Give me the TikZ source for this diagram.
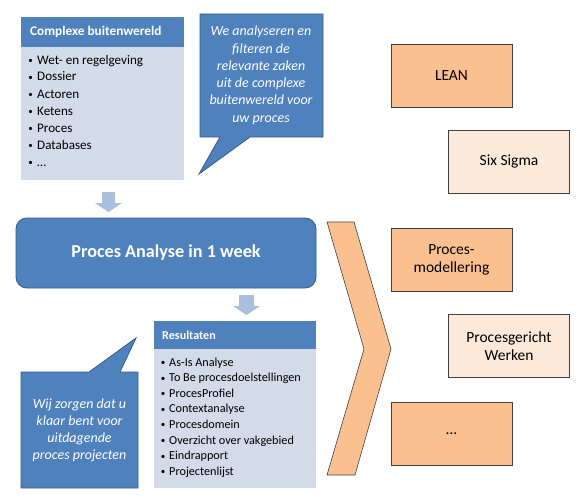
\documentclass[tikz,border=0pt]{standalone}
\usepackage{fontspec}
\setmainfont{Carlito}
\definecolor{blu}{HTML}{4F81BD}
\definecolor{bluedge}{HTML}{385D8A}
\definecolor{lightblu}{HTML}{D3DBE9}
\definecolor{arrblu}{HTML}{AABFDC}
\definecolor{orng}{HTML}{FAC090}
\definecolor{peach}{HTML}{FDE9D9}
\definecolor{boxedge}{HTML}{404040}
\tikzset{
  listtxt/.style={anchor=base west,inner sep=0pt,font=\fontsize{13.1}{15}\selectfont},
  restxt/.style={anchor=base west,inner sep=0pt,font=\fontsize{12.2}{14}\selectfont},
  bul/.style={anchor=base,inner sep=0pt,font=\fontsize{9}{10}\selectfont},
  calltxt/.style={anchor=base,inner sep=0pt,text=white,font=\fontsize{14}{16}\selectfont\itshape},
  hdrtxt/.style={anchor=base west,inner sep=0pt,text=white,font=\fontsize{13.3}{15}\selectfont\bfseries},
  methodbox/.style={draw=boxedge,line width=0.6pt,minimum width=121pt,minimum height=63pt,align=center,inner sep=2pt,font=\fontsize{15.5}{18.5}\selectfont},
  darkbox/.style={methodbox,fill=orng},
  lightbox/.style={methodbox,fill=peach},
  downarrow/.style={fill=arrblu,draw=none},
}
\begin{document}
\begin{tikzpicture}[x=1pt,y=-1pt]
\useasboundingbox (0,0) rectangle (586,503);
\fill[white] (0,0) rectangle (586,503);

% Complexe buitenwereld box
\fill[lightblu] (21,17) rectangle (184,180);
\fill[blu] (21,17) rectangle (184,47);
\node[hdrtxt] (cbh) at (30,36) {Complexe buitenwereld};
\foreach \t [count=\i] in {Wet- en regelgeving,Dossier,Actoren,Ketens,Proces,Databases,\dots}{
  \node[bul] (cbb\i) at (30.5,{63.5+17*(\i-1)}) {•};
  \node[listtxt] (cbl\i) at (37,{64+17*(\i-1)}) {\t};
}

% Callout 1
\draw[fill=blu,draw=bluedge,line width=0.8pt]
  (200,14) -- (323,14) -- (323,137) -- (250,137) -- (199,174) -- (220,137) -- (200,137) -- cycle;
\foreach \t [count=\i] in {We analyseren en,filteren de,relevante zaken,uit de complexe,buitenwereld voor,uw proces}{
  \node[calltxt] (c1l\i) at (261,{36+17.2*(\i-1)}) {\t};
}

% arrow 1
\fill[downarrow] (102,192) -- (115,192) -- (115,203) -- (122,203) -- (108.5,212) -- (95,203) -- (102,203) -- cycle;

% Main box
\node[draw=bluedge,fill=blu,line width=0.9pt,rounded corners=11pt,minimum width=300pt,minimum height=70pt,
  text=white,font=\fontsize{18.2}{20}\selectfont\bfseries,inner sep=0pt] (main) at (166,253) {Proces Analyse in 1 week};

% arrow 2
\fill[downarrow] (239,295) -- (254,295) -- (254,306) -- (260,306) -- (246.5,315) -- (233,306) -- (239,306) -- cycle;

% Resultaten box
\fill[lightblu] (154,321) rectangle (316,488);
\fill[blu] (154,321) rectangle (316,349);
\node[hdrtxt,font=\fontsize{12.1}{14}\selectfont\bfseries] (rsh) at (162,339) {Resultaten};
\foreach \t [count=\i] in {As-Is Analyse,To Be procesdoelstellingen,ProcesProfiel,Contextanalyse,Procesdomein,Overzicht over vakgebied,Eindrapport,Projectenlijst}{
  \node[bul] (rsb\i) at (163,{365.5+15.6*(\i-1)}) {•};
  \node[restxt] (rsl\i) at (169,{366+15.6*(\i-1)}) {\t};
}

% Callout 2
\draw[fill=blu,draw=bluedge,line width=0.8pt]
  (21,372) -- (89,372) -- (136,338) -- (120,372) -- (138,372) -- (138,488) -- (21,488) -- cycle;
\foreach \t [count=\i] in {Wij zorgen dat u,klaar bent voor,uitdagende,proces projecten}{
  \node[calltxt] (c2l\i) at (79.5,{408+17.3*(\i-1)}) {\t};
}

% Chevron
\draw[fill=orng,draw=boxedge,line width=0.6pt]
  (327,222) -- (354,222) -- (391,349) -- (355,475) -- (327,475) -- (364,349) -- cycle;

% Method boxes
\node[darkbox] (lean) at (451.5,75.5) {LEAN};
\node[lightbox] (six) at (509,161.5) {Six Sigma};
\node[darkbox] (pm) at (451.5,260) {Proces-\\modellering};
\node[lightbox] (pw) at (509,346) {Procesgericht\\Werken};
\node[darkbox] (etc) at (451.5,433.5) {\dots};
\end{tikzpicture}
\end{document}
